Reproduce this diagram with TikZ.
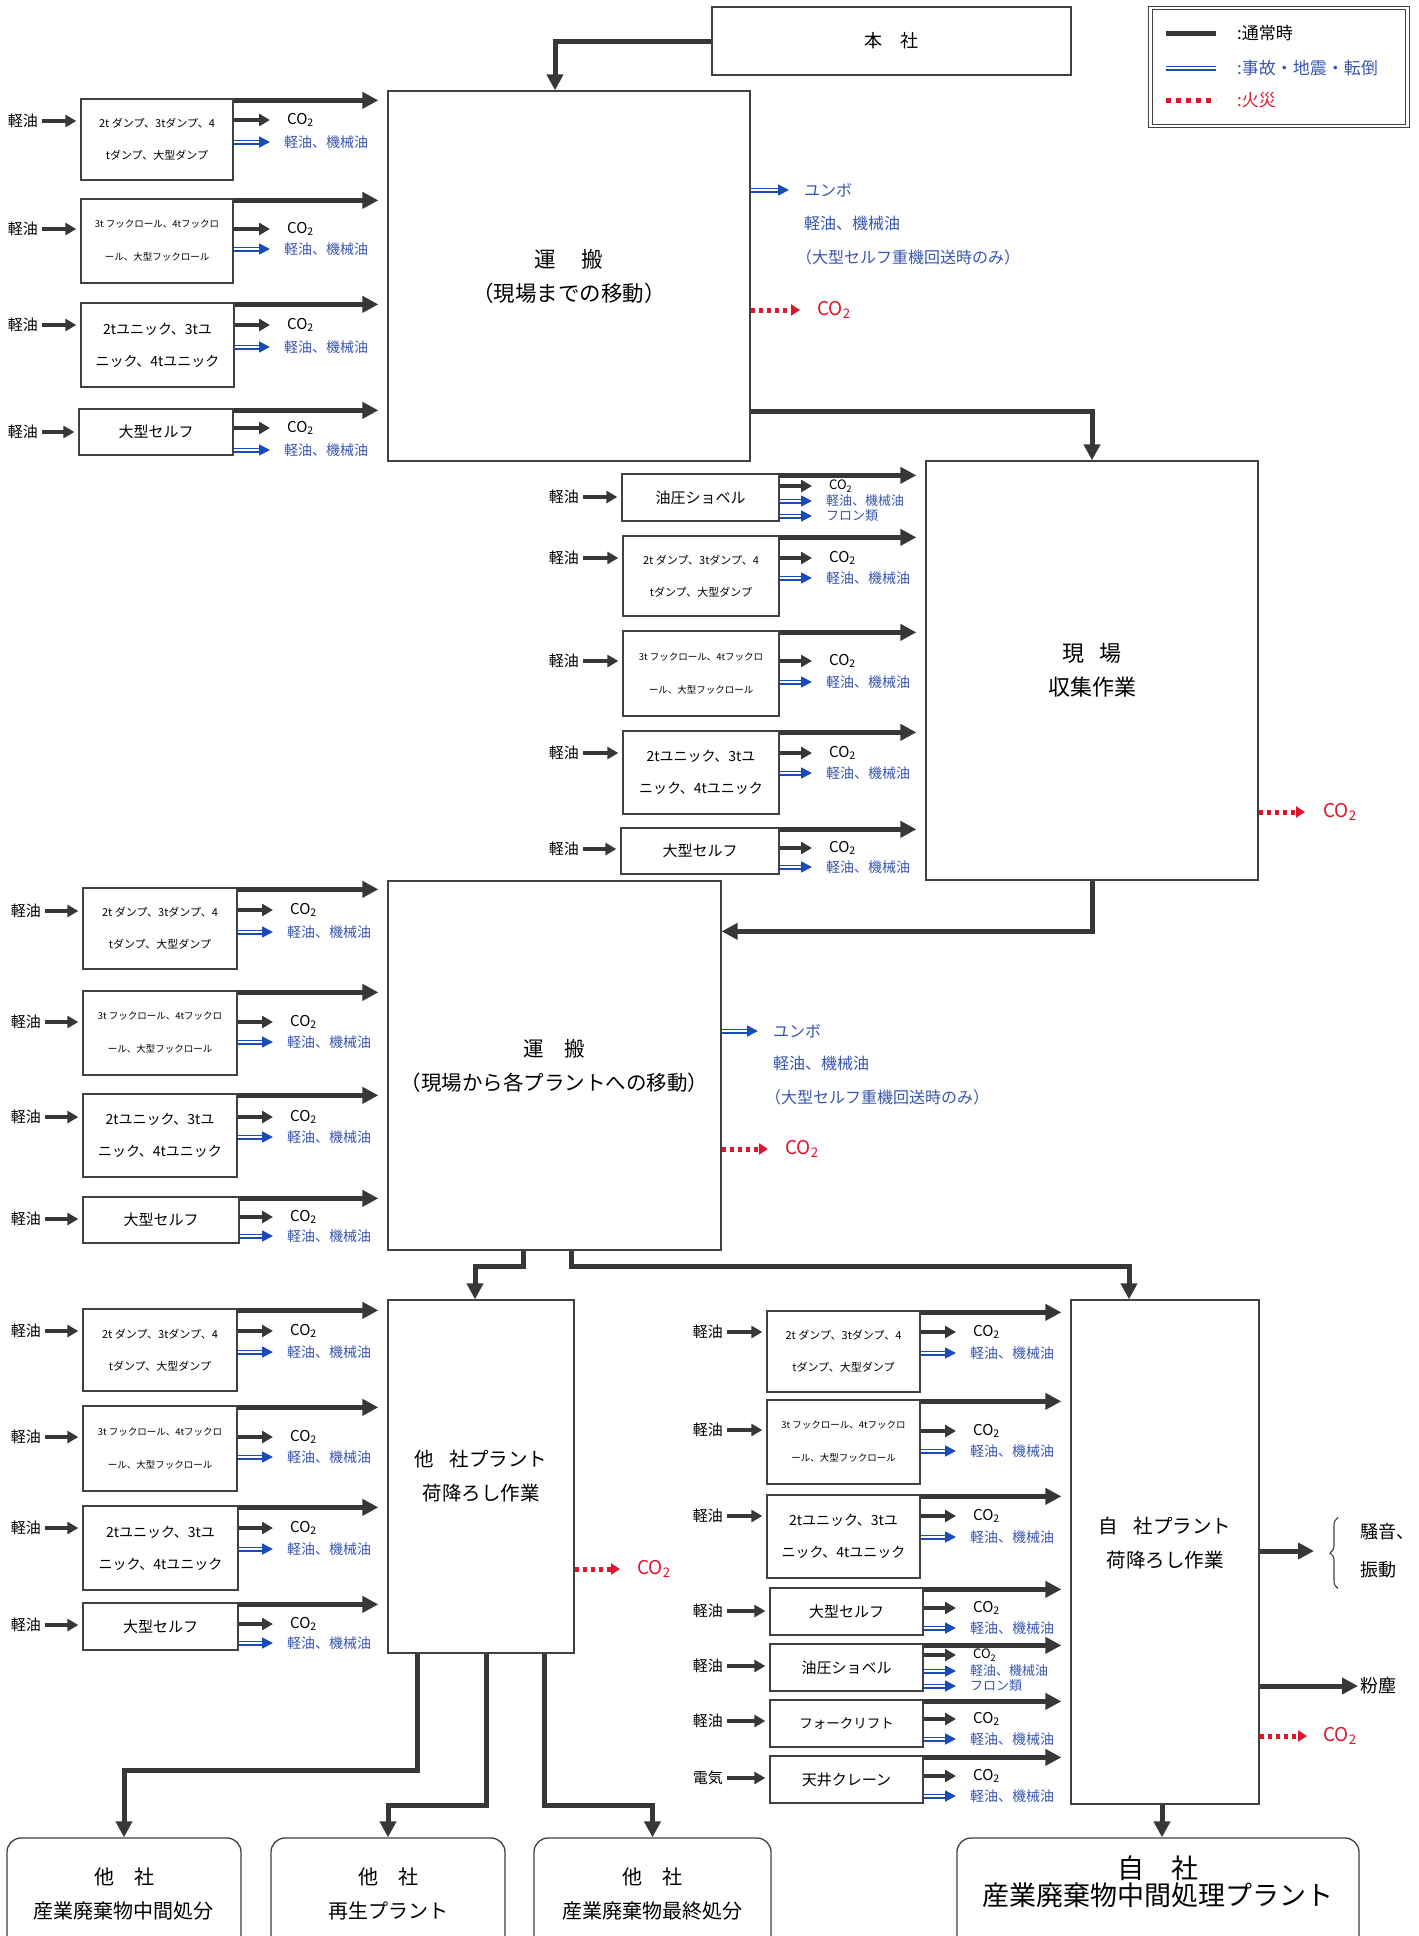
\documentclass[tikz,border=0pt]{standalone}
\usepackage{fontspec}
\setmainfont{Noto Sans CJK JP}
\usetikzlibrary{arrows.meta,decorations.pathreplacing}
\definecolor{arrowgray}{RGB}{55,55,55}
\definecolor{linegray}{RGB}{65,65,65}
\definecolor{accblue}{RGB}{25,75,185}
\definecolor{txtblue}{RGB}{55,85,175}
\definecolor{firered}{RGB}{225,20,45}
\tikzset{
  bigarrow/.style={arrowgray, line width=5pt, -{Triangle[length=16pt,width=16pt]}},
  feedarrow/.style={bigarrow, shorten >=9pt},
  midarrow/.style={arrowgray, line width=4.5pt, -{Triangle[length=11pt,width=12pt]}},
  fuelarrow/.style={midarrow, shorten <=2pt, shorten >=4pt},
  gasarrow/.style={midarrow, shorten >=15pt},
  leakarrow/.style={accblue, line width=1.7pt, double=white, double distance=1.6pt,
    -{Triangle[length=11pt,width=11pt]}, shorten >=12pt},
  firearrow/.style={firered, line width=5pt, dash pattern=on 4.5pt off 3.5pt,
    -{Triangle[length=9pt,width=11pt]}},
  eqbox/.style={draw=linegray, line width=1.3pt, inner sep=0pt, align=center},
  dumpbox/.style={eqbox, font=\fontsize{11}{32}\selectfont},
  hookbox/.style={eqbox, font=\fontsize{9.5}{33}\selectfont},
  unicbox/.style={eqbox, font=\fontsize{14}{32}\selectfont},
  onebox/.style={eqbox, font=\fontsize{15}{15}\selectfont},
  mainbox/.style={draw=linegray, line width=1.3pt, inner sep=0pt, align=center,
    font=\fontsize{21}{33}\selectfont},
  endbox/.style={draw=linegray, line width=1.3pt, rounded corners=14pt, inner sep=0pt,
    align=center, font=\fontsize{20}{34}\selectfont},
  fuel/.style={anchor=east, inner sep=2pt, font=\fontsize{15}{15}\selectfont},
  gas/.style={anchor=west, inner sep=2pt, font=\fontsize{15}{15}\selectfont},
  leak/.style={anchor=west, inner sep=2pt, text=txtblue, font=\fontsize{14}{14}\selectfont},
  note/.style={anchor=west, inner sep=2pt, text=txtblue, font=\fontsize{16}{16}\selectfont},
  firelab/.style={anchor=west, inner sep=2pt, text=firered, font=\fontsize{19}{19}\selectfont},
  legtext/.style={anchor=west, inner sep=0pt, font=\fontsize{17}{17}\selectfont},
}
\begin{document}
\begin{tikzpicture}[x=1pt,y=-1pt]
\useasboundingbox (0,0) rectangle (1419,1936);
\clip (0,0) rectangle (1419,1936);

% legend
\node[draw=linegray, double, line width=1pt, double distance=2.5pt, minimum width=257pt,
  minimum height=118pt, inner sep=0pt] (legend) at (1279,67) {};
\coordinate (lgA1) at (1166,33); \coordinate (lgA2) at (1216,33);
\coordinate (lgB1) at (1166,68); \coordinate (lgB2) at (1216,68);
\coordinate (lgC1) at (1166,100); \coordinate (lgC2) at (1216,100);
\draw[arrowgray, line width=5pt] (lgA1) -- (lgA2);
\draw[accblue, line width=1.7pt, double=white, double distance=1.6pt] (lgB1) -- (lgB2);
\draw[firered, line width=5pt, dash pattern=on 5pt off 5pt] (lgC1) -- (lgC2);
\node[legtext] (lgtA) at (1237,33) {:通常時};
\node[legtext, text=txtblue] (lgtB) at (1237,68) {:事故・地震・転倒};
\node[legtext, text=firered] (lgtC) at (1237,100) {:火災};

% main boxes
\node[mainbox, minimum width=359pt, minimum height=68pt, font=\fontsize{18}{18}\selectfont]
  (honsha) at (891.5,41) {本　社};
\node[mainbox, minimum width=362pt, minimum height=370pt, font=\fontsize{21.5}{34}\selectfont]
  (unpan1) at (569,276) {運\hspace{1.2em}搬\\（現場までの移動）};
\node[mainbox, minimum width=332pt, minimum height=419pt, font=\fontsize{22}{34}\selectfont]
  (genba) at (1092,670.5) {現\hspace{0.7em}場\\収集作業};
\node[mainbox, minimum width=333pt, minimum height=369pt, font=\fontsize{20.5}{34}\selectfont]
  (unpan2) at (554.5,1065.5) {運\hspace{1em}搬\\（現場から各プラントへの移動）};
\node[mainbox, minimum width=186pt, minimum height=353pt, font=\fontsize{19.5}{34}\selectfont]
  (tasha) at (481,1476.5) {他\hspace{0.8em}社プラント\\荷降ろし作業};
\node[mainbox, minimum width=188pt, minimum height=504pt, font=\fontsize{19.5}{34}\selectfont]
  (jisha) at (1165,1552) {自\hspace{0.8em}社プラント\\荷降ろし作業\\[-14pt]};

% destinations
\node[endbox, minimum width=234pt, minimum height=112pt] (dest1) at (124,1894)
  {他　社\\産業廃棄物中間処分};
\node[endbox, minimum width=234pt, minimum height=112pt] (dest2) at (388,1894)
  {他　社\\再生プラント};
\node[endbox, minimum width=237pt, minimum height=112pt] (dest3) at (652.5,1894)
  {他　社\\産業廃棄物最終処分};
\node[endbox, minimum width=402pt, minimum height=112pt, font=\fontsize{27}{27}\selectfont]
  (dest4) at (1158,1894) {自　社\\産業廃棄物中間処理プラント\\[0pt]};

% main flow
\draw[bigarrow] (honsha.west) -| ([xshift=-14pt]unpan1.north);
\draw[bigarrow] ([yshift=50pt]unpan1.south east) -| (genba.north);
\draw[bigarrow] (genba.south) |- ([yshift=-51pt]unpan2.north east);
\draw[bigarrow] ([xshift=-31pt]unpan2.south) -- ++(0,16) -| ([xshift=-6pt]tasha.north);
\draw[bigarrow] ([xshift=17pt]unpan2.south) -- ++(0,16) -| ([xshift=-36pt]jisha.north);
\draw[bigarrow] ([xshift=-64pt]tasha.south) -- ++(0,117) -| (dest1.north);
\draw[bigarrow] ([xshift=5pt]tasha.south) -- ++(0,152) -| (dest2.north);
\draw[bigarrow] ([xshift=63pt]tasha.south) -- ++(0,152) -| (dest3.north);
\draw[bigarrow] ([xshift=-3pt]jisha.south) -- ([xshift=-3pt]jisha.south |- dest4.north);

% outputs of the transport and work boxes
\node[note] (yunbo1) at (802,190) {ユンボ};
\node[note] (yunbo1b) at (802,223) {軽油、機械油};
\node[note] (yunbo1c) at (794,257) {（大型セルフ重機回送時のみ）};
\draw[leakarrow, shorten >=13pt] (unpan1.east |- yunbo1.west) -- (yunbo1.west);
\node[firelab] (fire1) at (815,310) {CO\textsubscript{2}};
\draw[firearrow, shorten >=15pt] (unpan1.east |- fire1.west) -- (fire1.west);
\node[firelab] (fire2) at (1321,812) {CO\textsubscript{2}};
\draw[firearrow, shorten >=16pt] (genba.east |- fire2.west) -- (fire2.west);
\node[note] (yunbo2) at (771,1031) {ユンボ};
\node[note] (yunbo2b) at (771,1063) {軽油、機械油};
\node[note] (yunbo2c) at (763,1097) {（大型セルフ重機回送時のみ）};
\draw[leakarrow, shorten >=13pt] (unpan2.east |- yunbo2.west) -- (yunbo2.west);
\node[firelab] (fire3) at (783,1149) {CO\textsubscript{2}};
\draw[firearrow, shorten >=15pt] (unpan2.east |- fire3.west) -- (fire3.west);
\node[firelab] (fire4) at (635,1569) {CO\textsubscript{2}};
\draw[firearrow, shorten >=15pt] (tasha.east |- fire4.west) -- (fire4.west);
\node[anchor=west, inner sep=0pt, align=left, font=\fontsize{18}{38}\selectfont]
  (noise) at (1360,1551) {騒音、\\振動};
\draw[linegray, line width=1.1pt, decorate, decoration={brace, amplitude=8pt}]
  ([xshift=-22pt,yshift=-10pt]noise.south west) -- ([xshift=-22pt,yshift=6pt]noise.north west);
\draw[bigarrow, shorten >=46pt] (jisha.east |- noise.west) -- (noise.west);
\node[anchor=west, inner sep=0pt, font=\fontsize{18}{18}\selectfont] (dust) at (1360,1686) {粉塵};
\draw[bigarrow, shorten >=2pt] (jisha.east |- dust.west) -- (dust.west);
\node[firelab] (fire5) at (1321,1736) {CO\textsubscript{2}};
\draw[firearrow, shorten >=14pt] (jisha.east |- fire5.west) -- (fire5.west);

% vehicles to the site
\node[dumpbox, minimum width=152pt, minimum height=81pt] (g1a) at (157,139.5)
  {2t ダンプ、3tダンプ、4\\tダンプ、大型ダンプ};
\node[fuel] (g1af) at (40,121) {軽油};
\node[gas] (g1ac) at (285,120) {CO\textsubscript{2}};
\node[leak] (g1ab) at (282,142) {軽油、機械油};
\node[hookbox, minimum width=152pt, minimum height=84pt] (g1b) at (157,241)
  {3t フックロール、4tフックロ\\ール、大型フックロール};
\node[fuel] (g1bf) at (40,229) {軽油};
\node[gas] (g1bc) at (285,229) {CO\textsubscript{2}};
\node[leak] (g1bb) at (282,249) {軽油、機械油};
\node[unicbox, minimum width=153pt, minimum height=84pt] (g1c) at (157.5,345)
  {2tユニック、3tユ\\ニック、4tユニック};
\node[fuel] (g1cf) at (40,325) {軽油};
\node[gas] (g1cc) at (285,325) {CO\textsubscript{2}};
\node[leak] (g1cb) at (282,347) {軽油、機械油};
\node[onebox, minimum width=154pt, minimum height=46pt] (g1d) at (156,432) {大型セルフ};
\node[fuel] (g1df) at (40,432) {軽油};
\node[gas] (g1dc) at (285,428) {CO\textsubscript{2}};
\node[leak] (g1db) at (282,450) {軽油、機械油};
\foreach \r in {g1a,g1b,g1c,g1d} {
  \draw[fuelarrow] (\r f.east) -- (\r f.east -| \r.west);
  \draw[gasarrow] (\r c.west -| \r.east) -- (\r c.west);
  \draw[leakarrow] (\r b.west -| \r.east) -- (\r b.west);
  \draw[feedarrow] ([yshift=-2pt]\r.north east) -- ([yshift=-2pt]\r.north east -| unpan1.west);
}

% work at the site
\node[onebox, minimum width=157pt, minimum height=47pt] (g2a) at (700.5,497.5) {油圧ショベル};
\node[fuel] (g2af) at (581,497) {軽油};
\node[gas, font=\fontsize{13}{13}\selectfont] (g2ac) at (827,486) {CO\textsubscript{2}};
\node[leak, font=\fontsize{13}{13}\selectfont] (g2ab) at (824,501) {軽油、機械油};
\node[leak, font=\fontsize{13}{13}\selectfont] (g2aw) at (824,516) {フロン類};
\draw[leakarrow] (g2aw.west -| g2a.east) -- (g2aw.west);
\node[dumpbox, minimum width=156pt, minimum height=80pt] (g2b) at (701,576)
  {2t ダンプ、3tダンプ、4\\tダンプ、大型ダンプ};
\node[fuel] (g2bf) at (581,558) {軽油};
\node[gas] (g2bc) at (827,558) {CO\textsubscript{2}};
\node[leak] (g2bb) at (824,578) {軽油、機械油};
\node[hookbox, minimum width=156pt, minimum height=85pt] (g2c) at (701,673.5)
  {3t フックロール、4tフックロ\\ール、大型フックロール};
\node[fuel] (g2cf) at (581,661) {軽油};
\node[gas] (g2cc) at (827,661) {CO\textsubscript{2}};
\node[leak] (g2cb) at (824,682) {軽油、機械油};
\node[unicbox, minimum width=156pt, minimum height=83pt] (g2d) at (701,772.5)
  {2tユニック、3tユ\\ニック、4tユニック};
\node[fuel] (g2df) at (581,753) {軽油};
\node[gas] (g2dc) at (827,753) {CO\textsubscript{2}};
\node[leak] (g2db) at (824,773) {軽油、機械油};
\node[onebox, minimum width=158pt, minimum height=46pt] (g2e) at (700,851) {大型セルフ};
\node[fuel] (g2ef) at (581,849) {軽油};
\node[gas] (g2ec) at (827,848) {CO\textsubscript{2}};
\node[leak] (g2eb) at (824,867) {軽油、機械油};
\foreach \r in {g2a,g2b,g2c,g2d,g2e} {
  \draw[fuelarrow] (\r f.east) -- (\r f.east -| \r.west);
  \draw[gasarrow] (\r c.west -| \r.east) -- (\r c.west);
  \draw[leakarrow] (\r b.west -| \r.east) -- (\r b.west);
  \draw[feedarrow] ([yshift=-2pt]\r.north east) -- ([yshift=-2pt]\r.north east -| genba.west);
}

% vehicles to the plants
\node[dumpbox, minimum width=154pt, minimum height=81pt] (g3a) at (160,928.5)
  {2t ダンプ、3tダンプ、4\\tダンプ、大型ダンプ};
\node[fuel] (g3af) at (43,911) {軽油};
\node[gas] (g3ac) at (288,910) {CO\textsubscript{2}};
\node[leak] (g3ab) at (285,932) {軽油、機械油};
\node[hookbox, minimum width=154pt, minimum height=84pt] (g3b) at (160,1033)
  {3t フックロール、4tフックロ\\ール、大型フックロール};
\node[fuel] (g3bf) at (43,1022) {軽油};
\node[gas] (g3bc) at (288,1022) {CO\textsubscript{2}};
\node[leak] (g3bb) at (285,1042) {軽油、機械油};
\node[unicbox, minimum width=154pt, minimum height=83pt] (g3c) at (160,1135.5)
  {2tユニック、3tユ\\ニック、4tユニック};
\node[fuel] (g3cf) at (43,1117) {軽油};
\node[gas] (g3cc) at (288,1117) {CO\textsubscript{2}};
\node[leak] (g3cb) at (285,1137) {軽油、機械油};
\node[onebox, minimum width=156pt, minimum height=46pt] (g3d) at (161,1220) {大型セルフ};
\node[fuel] (g3df) at (43,1219) {軽油};
\node[gas] (g3dc) at (288,1217) {CO\textsubscript{2}};
\node[leak] (g3db) at (285,1236) {軽油、機械油};
\foreach \r in {g3a,g3b,g3c,g3d} {
  \draw[fuelarrow] (\r f.east) -- (\r f.east -| \r.west);
  \draw[gasarrow] (\r c.west -| \r.east) -- (\r c.west);
  \draw[leakarrow] (\r b.west -| \r.east) -- (\r b.west);
  \draw[feedarrow] ([yshift=-2pt]\r.north east) -- ([yshift=-2pt]\r.north east -| unpan2.west);
}

% unloading at other plants
\node[dumpbox, minimum width=154pt, minimum height=82pt] (g4a) at (160,1350)
  {2t ダンプ、3tダンプ、4\\tダンプ、大型ダンプ};
\node[fuel] (g4af) at (43,1331) {軽油};
\node[gas] (g4ac) at (288,1331) {CO\textsubscript{2}};
\node[leak] (g4ab) at (285,1352) {軽油、機械油};
\node[hookbox, minimum width=154pt, minimum height=85pt] (g4b) at (160,1448.5)
  {3t フックロール、4tフックロ\\ール、大型フックロール};
\node[fuel] (g4bf) at (43,1437) {軽油};
\node[gas] (g4bc) at (288,1437) {CO\textsubscript{2}};
\node[leak] (g4bb) at (285,1457) {軽油、機械油};
\node[unicbox, minimum width=155pt, minimum height=84pt] (g4c) at (160.5,1548)
  {2tユニック、3tユ\\ニック、4tユニック};
\node[fuel] (g4cf) at (43,1528) {軽油};
\node[gas] (g4cc) at (288,1528) {CO\textsubscript{2}};
\node[leak] (g4cb) at (285,1549) {軽油、機械油};
\node[onebox, minimum width=155pt, minimum height=47pt] (g4d) at (160.5,1626.5) {大型セルフ};
\node[fuel] (g4df) at (43,1625) {軽油};
\node[gas] (g4dc) at (288,1624) {CO\textsubscript{2}};
\node[leak] (g4db) at (285,1643) {軽油、機械油};
\foreach \r in {g4a,g4b,g4c,g4d} {
  \draw[fuelarrow] (\r f.east) -- (\r f.east -| \r.west);
  \draw[gasarrow] (\r c.west -| \r.east) -- (\r c.west);
  \draw[leakarrow] (\r b.west -| \r.east) -- (\r b.west);
  \draw[feedarrow] ([yshift=-2pt]\r.north east) -- ([yshift=-2pt]\r.north east -| tasha.west);
}

% unloading at our own plant
\node[dumpbox, minimum width=153pt, minimum height=81pt] (g5a) at (843.5,1351.5)
  {2t ダンプ、3tダンプ、4\\tダンプ、大型ダンプ};
\node[fuel] (g5af) at (725,1332) {軽油};
\node[gas] (g5ac) at (971,1332) {CO\textsubscript{2}};
\node[leak] (g5ab) at (968,1353) {軽油、機械油};
\node[hookbox, minimum width=153pt, minimum height=84pt] (g5b) at (843.5,1442)
  {3t フックロール、4tフックロ\\ール、大型フックロール};
\node[fuel] (g5bf) at (725,1430) {軽油};
\node[gas] (g5bc) at (971,1431) {CO\textsubscript{2}};
\node[leak] (g5bb) at (968,1451) {軽油、機械油};
\node[unicbox, minimum width=153pt, minimum height=83pt] (g5c) at (843.5,1536.5)
  {2tユニック、3tユ\\ニック、4tユニック};
\node[fuel] (g5cf) at (725,1516) {軽油};
\node[gas] (g5cc) at (971,1516) {CO\textsubscript{2}};
\node[leak] (g5cb) at (968,1537) {軽油、機械油};
\node[onebox, minimum width=153pt, minimum height=47pt] (g5d) at (846.5,1611.5) {大型セルフ};
\node[fuel] (g5df) at (725,1611) {軽油};
\node[gas] (g5dc) at (971,1608) {CO\textsubscript{2}};
\node[leak] (g5db) at (968,1628) {軽油、機械油};
\node[onebox, minimum width=153pt, minimum height=47pt] (g5e) at (846.5,1667.5) {油圧ショベル};
\node[fuel] (g5ef) at (725,1666) {軽油};
\node[gas, font=\fontsize{13}{13}\selectfont] (g5ec) at (971,1655) {CO\textsubscript{2}};
\node[leak, font=\fontsize{13}{13}\selectfont] (g5eb) at (968,1671) {軽油、機械油};
\node[leak, font=\fontsize{13}{13}\selectfont] (g5ew) at (968,1686) {フロン類};
\draw[leakarrow] (g5ew.west -| g5e.east) -- (g5ew.west);
\node[onebox, minimum width=153pt, minimum height=47pt, font=\fontsize{13.5}{13.5}\selectfont]
  (g5f) at (846.5,1723.5) {フォークリフト};
\node[fuel] (g5ff) at (725,1721) {軽油};
\node[gas] (g5fc) at (971,1719) {CO\textsubscript{2}};
\node[leak] (g5fb) at (968,1739) {軽油、機械油};
\node[onebox, minimum width=153pt, minimum height=47pt] (g5g) at (846.5,1779.5) {天井クレーン};
\node[fuel] (g5gf) at (725,1778) {電気};
\node[gas] (g5gc) at (971,1776) {CO\textsubscript{2}};
\node[leak] (g5gb) at (968,1796) {軽油、機械油};
\foreach \r in {g5a,g5b,g5c,g5d,g5e,g5f,g5g} {
  \draw[fuelarrow] (\r f.east) -- (\r f.east -| \r.west);
  \draw[gasarrow] (\r c.west -| \r.east) -- (\r c.west);
  \draw[leakarrow] (\r b.west -| \r.east) -- (\r b.west);
  \draw[feedarrow] ([yshift=-2pt]\r.north east) -- ([yshift=-2pt]\r.north east -| jisha.west);
}
\end{tikzpicture}
\end{document}
